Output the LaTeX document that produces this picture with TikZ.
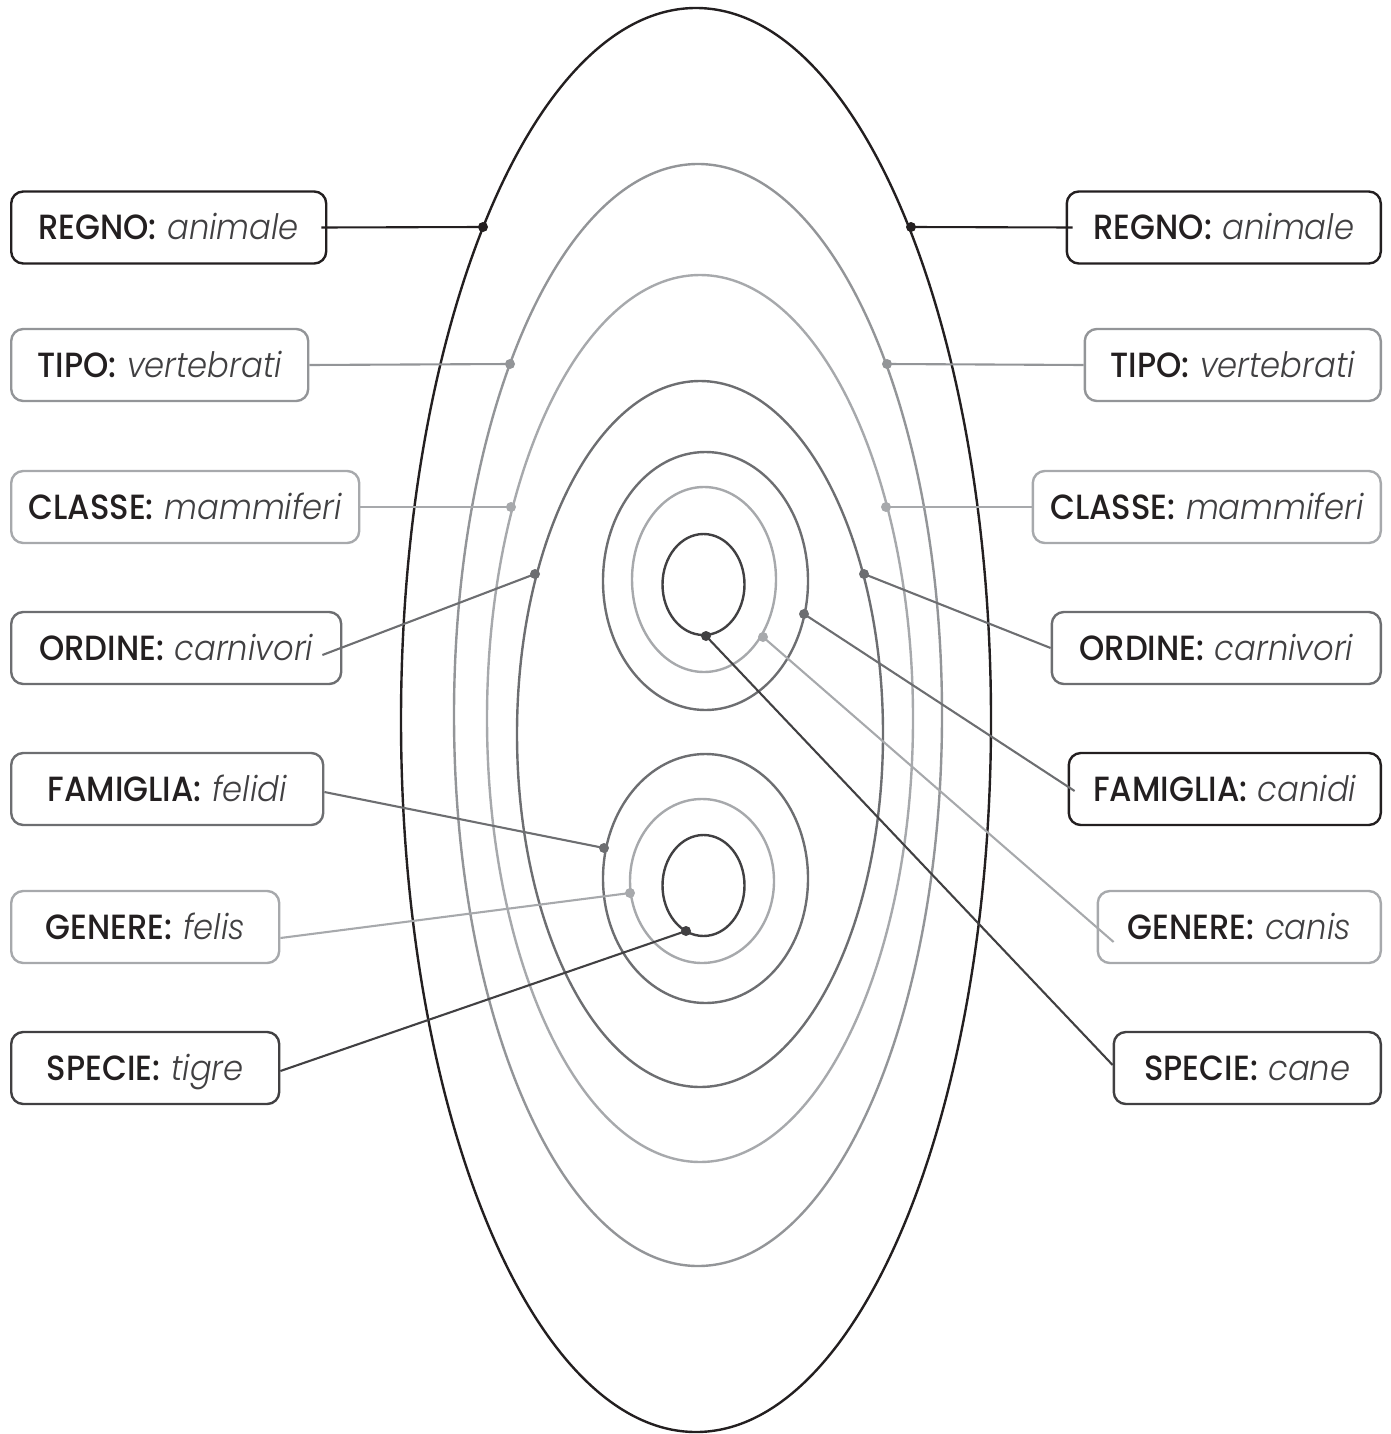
\documentclass[tikz,border=0pt]{standalone}
\usepackage{fontspec}
\newfontfamily\rankfont{Poppins Medium}[FakeStretch=0.92]
\newfontfamily\namefont{Poppins Light Italic}[FakeStretch=0.92]
\definecolor{inkblack}{HTML}{231F20}
\definecolor{inkdark}{HTML}{414042}
\definecolor{inkmid}{HTML}{6D6E71}
\definecolor{inkgray}{HTML}{939598}
\definecolor{inklight}{HTML}{A7A9AC}
\newcommand{\taxon}[2]{{\rankfont #1:}\ {\namefont\color{inkdark}#2}}

\begin{document}
\begin{tikzpicture}[x=1pt, y=-1pt, line width=2.4pt,
  box/.style={draw, rounded corners=12pt, minimum height=72pt, inner sep=0pt,
    text height=24.5pt, text depth=0pt,
    text=inkblack, font=\fontsize{35}{42}\selectfont},
  link/.style={line width=2.1pt}]
\useasboundingbox (0,0) rectangle (1391,1434);

% nested ellipses
\draw[inkblack] (696,720) ellipse [x radius=295pt, y radius=712pt];
\draw[inkgray] (698,715) ellipse [x radius=244pt, y radius=551pt];
\draw[inklight] (700,718.5) ellipse [x radius=213pt, y radius=443.5pt];
\draw[inkmid] (700,734) ellipse [x radius=183pt, y radius=353pt];
% dog
\draw[inkmid] (705.5,581) ellipse [x radius=102.5pt, y radius=129pt];
\draw[inklight] (704,579.5) ellipse [x radius=72pt, y radius=92.5pt];
\draw[inkdark] (703.5,584.5) ellipse [x radius=41pt, y radius=50.5pt];
% cat
\draw[inkmid] (705.5,878.5) ellipse [x radius=102.5pt, y radius=124.5pt];
\draw[inklight] (702,881) ellipse [x radius=72pt, y radius=82pt];
\draw[inkdark] (703.5,885.5) ellipse [x radius=41pt, y radius=50.5pt];

% points on the ellipses
\coordinate (regL) at (483,227);   \coordinate (regR) at (911,227);
\coordinate (tipL) at (510,364);   \coordinate (tipR) at (887,364);
\coordinate (claL) at (511,507);   \coordinate (claR) at (886,507);
\coordinate (ordL) at (535,574);   \coordinate (ordR) at (864,574);
\coordinate (famL) at (604,848);   \coordinate (famR) at (804,614);
\coordinate (genL) at (630,893);   \coordinate (genR) at (763,637);
\coordinate (speL) at (686,931);   \coordinate (speR) at (706,636);

% labels, left
\node[box, draw=inkblack, minimum width=315pt, anchor=west] (regnoL) at (10,227.5) {\taxon{REGNO}{animale}};
\node[box, draw=inkgray, minimum width=297pt, anchor=west] (tipoL) at (10,365) {\taxon{TIPO}{vertebrati}};
\node[box, draw=inklight, minimum width=348pt, anchor=west] (classeL) at (10,507) {\taxon{CLASSE}{mammiferi}};
\node[box, draw=inkmid, minimum width=330pt, anchor=west] (ordineL) at (10,648) {\taxon{ORDINE}{carnivori}};
\node[box, draw=inkmid, minimum width=312pt, anchor=west] (famigliaL) at (10,789) {\taxon{FAMIGLIA}{felidi}};
\node[box, draw=inklight, minimum width=268pt, anchor=west] (genereL) at (10,927) {\taxon{GENERE}{felis}};
\node[box, draw=inkdark, minimum width=268pt, anchor=west] (specieL) at (10,1068) {\taxon{SPECIE}{tigre}};

% labels, right
\node[box, draw=inkblack, minimum width=314pt, anchor=east] (regnoR) at (1382,227.5) {\taxon{REGNO}{animale}};
\node[box, draw=inkgray, minimum width=296pt, anchor=east] (tipoR) at (1382,365) {\taxon{TIPO}{vertebrati}};
\node[box, draw=inklight, minimum width=348pt, anchor=east] (classeR) at (1382,507) {\taxon{CLASSE}{mammiferi}};
\node[box, draw=inkmid, minimum width=329pt, anchor=east] (ordineR) at (1382,648) {\taxon{ORDINE}{carnivori}};
\node[box, draw=inkblack, minimum width=312pt, anchor=east] (famigliaR) at (1382,789) {\taxon{FAMIGLIA}{canidi}};
\node[box, draw=inklight, minimum width=283pt, anchor=east] (genereR) at (1382,927) {\taxon{GENERE}{canis}};
\node[box, draw=inkdark, minimum width=267pt, anchor=east] (specieR) at (1382,1068) {\taxon{SPECIE}{cane}};

% connectors
\draw[link, inkblack] (regL) -- ([shift={(-6,0)}]regnoL.east);
\draw[link, inkblack] (regR) -- ([shift={(7,0)}]regnoR.west);
\draw[link, inkgray] (tipL) -- (tipoL.east);
\draw[link, inkgray] (tipR) -- (tipoR.west);
\draw[link, inklight] (claL) -- (classeL.east);
\draw[link, inklight] (claR) -- (classeR.west);
\draw[link, inkmid] (ordL) -- ([shift={(-20,7)}]ordineL.east);
\draw[link, inkmid] (ordR) -- (ordineR.west);
\draw[link, inkmid] (famL) -- ([shift={(0,3)}]famigliaL.east);
\draw[link, inkmid] (famR) -- ([shift={(7,2)}]famigliaR.west);
\draw[link, inklight] (genL) -- ([shift={(0,11)}]genereL.east);
\draw[link, inklight] (genR) -- ([shift={(17,15)}]genereR.west);
\draw[link, inkdark] (speL) -- ([shift={(0,3)}]specieL.east);
\draw[link, inkdark] (speR) -- ([shift={(0,-3)}]specieR.west);

\foreach \p/\c in {regL/inkblack, regR/inkblack, tipL/inkgray, tipR/inkgray,
  claL/inklight, claR/inklight, ordL/inkmid, ordR/inkmid, famL/inkmid, famR/inkmid,
  genL/inklight, genR/inklight, speL/inkdark, speR/inkdark}
  \fill[\c] (\p) circle [radius=5pt];

\end{tikzpicture}
\end{document}
